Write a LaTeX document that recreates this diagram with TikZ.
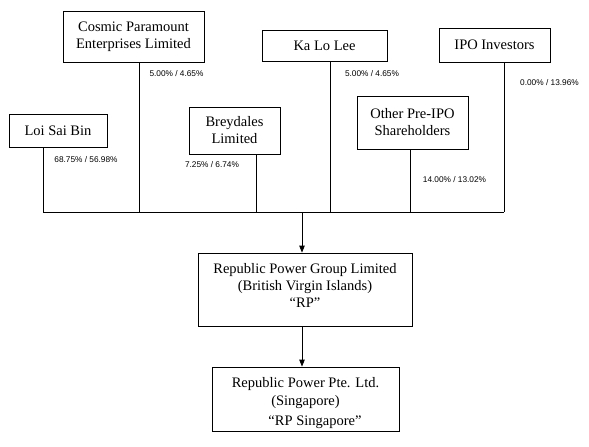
\documentclass[tikz,border=0pt]{standalone}
\usepackage{fontspec}
\setmainfont{Liberation Serif}
\newfontfamily\lblfont{Liberation Sans}
\usetikzlibrary{arrows.meta}
\begin{document}
\begin{tikzpicture}[x=1pt,y=-1pt,
  box/.style={draw, line width=0.8pt, inner sep=0pt, align=center, font=\fontsize{14.5}{17}\selectfont},
  txt/.style={inner sep=0pt, anchor=base, font=\fontsize{14.5}{17}\selectfont},
  pct/.style={font=\lblfont\fontsize{8.3}{9}\selectfont, inner sep=0pt},
  conn/.style={line width=0.8pt},
  arr/.style={line width=0.8pt, -{Triangle[length=7pt,width=5.5pt]}}]
\useasboundingbox (0,0) rectangle (589,447);
% shareholder boxes
\node[box, minimum width=141pt, minimum height=51pt] (cosmic) at (133.5,36.5) {Cosmic Paramount\\Enterprises Limited};
\node[box, minimum width=98pt, minimum height=33pt] (loi) at (58,130.5) {Loi Sai Bin};
\node[box, minimum width=91pt, minimum height=47pt] (brey) at (234.5,130.5) {Breydales\\Limited};
\node[box, minimum width=125pt, minimum height=31pt] (ka) at (324.5,45.5) {Ka Lo Lee};
\node[box, minimum width=111pt, minimum height=34pt] (ipo) at (494.5,45) {IPO Investors};
\node[box, minimum width=111pt, minimum height=53pt] (other) at (412.5,122.5) {Other Pre-IPO\\Shareholders};
% company boxes
\node[box, minimum width=214pt, minimum height=73pt] (rp) at (305,289.5) {};
\node[txt] (rpt1) at (305,273) {Republic Power Group Limited};
\node[txt] (rpt2) at (305,290) {(British Virgin Islands)};
\node[txt] (rpt3) at (305,307) {“RP”};
\node[box, minimum width=187pt, minimum height=64pt] (rps) at (305.5,399) {};
\node[txt] (rpst1) at (305.5,387) {Republic Power Pte. Ltd.};
\node[txt] (rpst2) at (305.5,405) {(Singapore)};
\node[txt] (rpst3) at (315,425) {“RP Singapore”};
% bus coordinates
\coordinate (b1) at (43,212);
\coordinate (b2) at (139,212);
\coordinate (b3) at (256,212);
\coordinate (b4) at (330,212);
\coordinate (b5) at (410,212);
\coordinate (b6) at (504,212);
\coordinate (bm) at (302,212);
\draw[conn] (loi.south -| b1) -- (b1);
\draw[conn] (cosmic.south -| b2) -- (b2);
\draw[conn] (brey.south -| b3) -- (b3);
\draw[conn] (ka.south -| b4) -- (b4);
\draw[conn] (other.south -| b5) -- (b5);
\draw[conn] (ipo.south -| b6) -- (b6);
\draw[conn] (b1) -- (b6);
\draw[arr] (bm) -- (rp.north -| bm);
\draw[arr] (rp.south -| bm) -- (rps.north -| bm);
% percentages
\node[pct] (p1) at (176.5,74) {5.00\% / 4.65\%};
\node[pct] (p2) at (86,160) {68.75\% / 56.98\%};
\node[pct] (p3) at (212,165) {7.25\% / 6.74\%};
\node[pct] (p4) at (372,74) {5.00\% / 4.65\%};
\node[pct] (p5) at (549.5,83) {0.00\% / 13.96\%};
\node[pct] (p6) at (454.5,180) {14.00\% / 13.02\%};
\end{tikzpicture}
\end{document}
